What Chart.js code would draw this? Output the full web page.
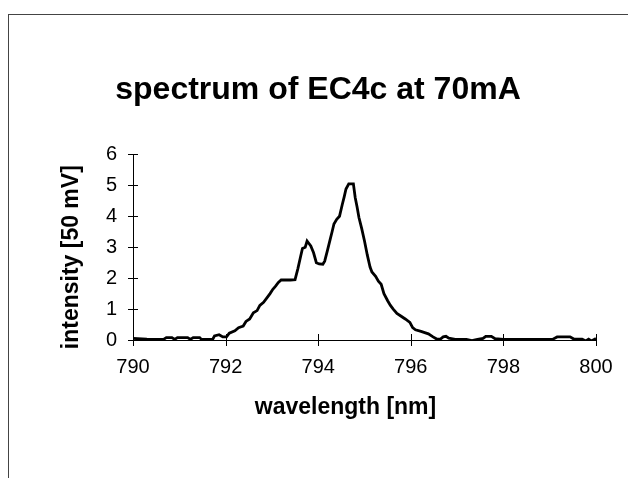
<!DOCTYPE html>
<html>
<head>
<meta charset="utf-8">
<script src="https://cdn.jsdelivr.net/npm/chart.js@4.4.0/dist/chart.umd.min.js"></script>
<style>
  html, body { margin: 0; padding: 0; background: #fff; overflow: hidden; }
  #wrap { position: relative; width: 628px; height: 478px; }
  #frame { position: absolute; left: 8px; top: 14px; width: 700px; height: 600px; border: 1px solid #444; }
  canvas { position: absolute; left: 0; top: 0; }
</style>
</head>
<body>
<div id="wrap">
  <div id="frame"></div>
  <canvas id="grafico" width="628" height="478"></canvas>
</div>
<script>
// wavelength [nm]
var comprimento = [
  790.00, 790.30, 790.60, 790.66, 790.72, 790.84, 790.90, 790.96, 791.18, 791.24,
  791.30, 791.44, 791.48, 791.72, 791.76, 791.86, 791.94, 792.02, 792.08, 792.20,
  792.28, 792.38, 792.44, 792.52, 792.60, 792.68, 792.74, 792.82, 792.90, 792.96,
  793.02, 793.08, 793.14, 793.20, 793.30, 793.40, 793.50, 793.56, 793.62, 793.66,
  793.72, 793.76, 793.80, 793.84, 793.90, 793.96, 794.02, 794.10, 794.14, 794.20,
  794.26, 794.30, 794.34, 794.40, 794.46, 794.52, 794.56, 794.60, 794.66, 794.72,
  794.76, 794.80, 794.84, 794.88, 794.94, 795.00, 795.06, 795.12, 795.16, 795.24,
  795.30, 795.36, 795.42, 795.50, 795.56, 795.62, 795.70, 795.80, 795.88, 795.98,
  796.04, 796.10, 796.22, 796.30, 796.38, 796.48, 796.56, 796.64, 796.70, 796.76,
  796.82, 796.96, 797.20, 797.32, 797.44, 797.56, 797.62, 797.74, 797.82, 798.00,
  798.30, 798.60, 798.90, 799.06, 799.16, 799.44, 799.52, 799.70, 799.78, 799.84,
  799.90, 800.00
];
// intensity [50 mV]
var intensidade = [
  0.05, 0.03, 0.02, 0.02, 0.08, 0.08, 0.02, 0.08, 0.08, 0.02,
  0.08, 0.08, 0.02, 0.02, 0.13, 0.17, 0.10, 0.10, 0.22, 0.30,
  0.40, 0.45, 0.60, 0.68, 0.88, 0.95, 1.12, 1.22, 1.38, 1.50,
  1.64, 1.74, 1.86, 1.94, 1.94, 1.94, 1.95, 2.30, 2.70, 2.96,
  3.00, 3.20, 3.12, 3.04, 2.82, 2.50, 2.46, 2.45, 2.55, 2.90,
  3.26, 3.50, 3.75, 3.90, 4.00, 4.38, 4.62, 4.88, 5.05, 5.05,
  5.05, 4.60, 4.30, 3.96, 3.60, 3.20, 2.75, 2.36, 2.20, 2.06,
  1.90, 1.80, 1.50, 1.27, 1.12, 1.00, 0.86, 0.76, 0.68, 0.57,
  0.40, 0.33, 0.28, 0.24, 0.20, 0.10, 0.03, 0.03, 0.10, 0.12,
  0.06, 0.02, 0.02, -0.02, 0.02, 0.05, 0.12, 0.12, 0.04, 0.02,
  0.02, 0.02, 0.02, 0.02, 0.10, 0.10, 0.03, 0.03, -0.03, 0.03,
  -0.03, 0.05
];
var ticksX = [790, 792, 794, 796, 798, 800];
var ticksY = [0, 1, 2, 3, 4, 5, 6];
var tituloX = 'wavelength [nm]';
var tituloY = 'intensity [50 mV]';

var pontos = comprimento.map(function (v, i) { return {x: v, y: intensidade[i]}; });

var fonte = 'Liberation Sans, Arial, sans-serif';

// tick marks crossing the axis lines + axis titles placed like the original
var marcasCruzadas = {
  id: 'marcasCruzadas',
  afterDraw: function (chart) {
    var ctx = chart.ctx, sx = chart.scales.x, sy = chart.scales.y;
    var a = chart.chartArea;
    ctx.save();
    ctx.strokeStyle = '#000';
    ctx.lineWidth = 1;
    ctx.beginPath();
    ticksY.forEach(function (t) {
      var py = Math.round(sy.getPixelForValue(t)) + 0.5;
      ctx.moveTo(a.left - 5, py); ctx.lineTo(a.left + 5, py);
    });
    ticksX.forEach(function (t) {
      var px = Math.round(sx.getPixelForValue(t)) + 0.5;
      ctx.moveTo(px, a.bottom - 6); ctx.lineTo(px, a.bottom + 6);
    });
    ctx.stroke();

    ctx.fillStyle = '#000';
    ctx.font = 'bold 23px ' + fonte;
    ctx.textAlign = 'center';
    ctx.textBaseline = 'middle';
    ctx.fillText(tituloX, (a.left + a.right) / 2 - 19, 408);
    ctx.translate(72, (a.top + a.bottom) / 2 + 10);
    ctx.rotate(-Math.PI / 2);
    ctx.fillText(tituloY, 0, 0);
    ctx.restore();
  }
};

new Chart(document.getElementById('grafico').getContext('2d'), {
  type: 'line',
  data: {
    datasets: [{
      label: 'EC4c',
      data: pontos,
      borderColor: '#000',
      borderWidth: 2.8,
      pointRadius: 0,
      tension: 0,
      fill: false
    }]
  },
  options: {
    responsive: false,
    animation: false,
    layout: { padding: { left: 40, right: 32, top: 0, bottom: 0 } },
    plugins: {
      legend: { display: false },
      tooltip: { enabled: false },
      title: {
        display: true,
        text: 'spectrum of EC4c at 70mA',
        color: '#000',
        font: { family: fonte, size: 32, weight: 'bold' },
        padding: { top: 71, bottom: 45 }
      }
    },
    scales: {
      x: {
        type: 'linear',
        min: 790, max: 800,
        afterFit: function (s) { s.height = 138; },
        afterBuildTicks: function (s) { s.ticks = ticksX.map(function (v) { return {value: v}; }); },
        grid: { display: false, drawTicks: false },
        border: { display: true, color: '#000', width: 1 },
        ticks: { color: '#000', padding: 15, maxRotation: 0, font: { family: fonte, size: 20 } }
      },
      y: {
        min: 0, max: 6,
        afterFit: function (s) { s.width = 93; },
        afterBuildTicks: function (s) { s.ticks = ticksY.map(function (v) { return {value: v}; }); },
        grid: { display: false, drawTicks: false },
        border: { display: true, color: '#000', width: 1 },
        ticks: { color: '#000', padding: 16, font: { family: fonte, size: 20 } }
      }
    }
  },
  plugins: [marcasCruzadas]
});
</script>
</body>
</html>
